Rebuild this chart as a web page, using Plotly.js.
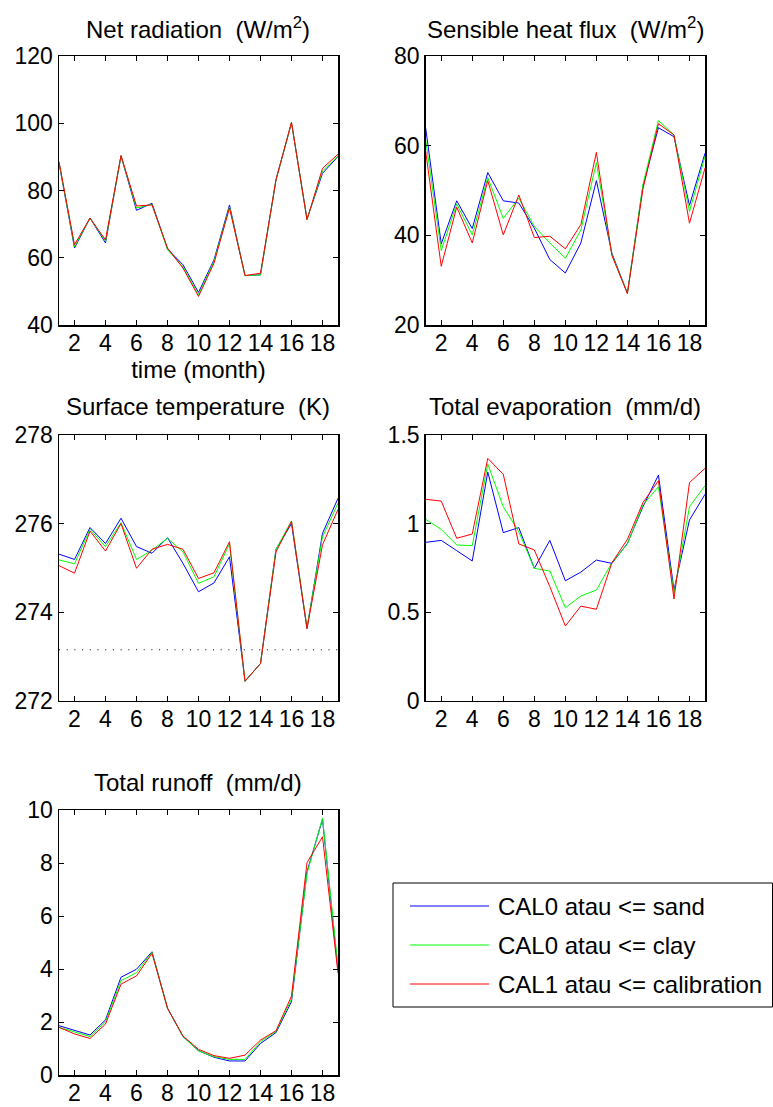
<!DOCTYPE html>
<html>
<head>
<meta charset="utf-8">
<script src="https://cdn.plot.ly/plotly-3.0.1.min.js"></script>
<style>html,body{margin:0;padding:0;background:#fff;}#chart{width:773px;height:1107px;}</style>
</head>
<body>
<div id="chart"></div>
<script>
// ---------------- data ----------------
const months = [1,2,3,4,5,6,7,8,9,10,11,12,13,14,15,16,17,18,19];
const seriesNames = ["CAL0 atau <= sand", "CAL0 atau <= clay", "CAL1 atau <= calibration"];
const seriesColors = ["#0000ff", "#00ff00", "#ff0000"];

const netRadSand  = [88.2,62.9,71.8,64.4,90.3,74.1,76.2,62.6,57.9,49.7,59.4,75.7,54.7,54.9,83.2,100.1,71.5,85.1,90.1];
const netRadClay  = [88.4,63.3,71.8,64.9,90.3,74.8,75.9,62.4,57.3,49.0,58.9,75.1,54.7,54.9,83.2,100.2,71.4,85.8,90.3];
const netRadCal   = [88.6,63.9,71.8,65.3,90.4,75.4,75.7,62.9,56.9,48.5,58.4,74.8,54.7,55.4,83.2,100.3,71.3,86.6,90.8];

const sensSand = [63.9,38.1,47.7,41.5,54.0,47.7,47.2,41.6,34.6,31.6,38.3,52.2,36.0,27.1,51.0,64.0,62.0,46.7,58.3];
const sensClay = [61.3,36.6,47.0,40.1,52.9,43.8,48.3,42.0,38.3,34.9,41.2,56.2,35.7,27.1,51.3,65.6,62.4,45.3,57.6];
const sensCal  = [58.7,33.1,46.3,38.3,52.2,40.1,49.0,39.5,39.8,37.0,42.4,58.5,35.5,27.0,50.3,64.9,62.4,42.7,55.0];

const tsurfSand = [275.31,275.19,275.91,275.55,276.12,275.48,275.33,275.68,275.10,274.46,274.66,275.25,272.44,272.84,275.42,276.00,273.63,275.78,276.57];
const tsurfClay = [275.18,275.09,275.87,275.48,276.02,275.19,275.40,275.67,275.36,274.65,274.80,275.54,272.44,272.84,275.42,276.06,273.65,275.70,276.46];
const tsurfCal  = [275.05,274.88,275.83,275.38,276.00,274.99,275.42,275.53,275.42,274.76,274.89,275.59,272.44,272.84,275.36,276.05,273.63,275.52,276.32];
const freezingPoint = 273.15;

const evapSand = [0.894,0.905,0.847,0.789,1.291,0.949,0.977,0.747,0.905,0.677,0.726,0.794,0.775,0.888,1.095,1.274,0.625,1.020,1.165];
const evapClay = [1.024,0.967,0.879,0.875,1.336,1.095,0.954,0.747,0.732,0.525,0.591,0.625,0.779,0.885,1.105,1.208,0.606,1.095,1.214];
const evapCal  = [1.137,1.127,0.917,0.941,1.368,1.278,0.885,0.851,0.644,0.422,0.534,0.516,0.779,0.911,1.118,1.242,0.574,1.231,1.312];

const runoffSand = [1.86,1.69,1.51,2.08,3.69,3.99,4.65,2.52,1.45,0.92,0.67,0.53,0.53,1.19,1.60,2.77,7.67,9.65,3.96];
const runoffClay = [1.80,1.62,1.45,2.01,3.56,3.86,4.63,2.52,1.45,0.91,0.69,0.59,0.59,1.26,1.64,2.86,7.61,9.69,4.09];
const runoffCal  = [1.80,1.55,1.38,1.92,3.43,3.74,4.59,2.52,1.47,0.97,0.73,0.63,0.75,1.32,1.67,2.98,8.01,8.99,3.84];

const panelTitles = ["Net radiation  (W/m<sup>2</sup>)", "Sensible heat flux  (W/m<sup>2</sup>)",
                     "Surface temperature  (K)", "Total evaporation  (mm/d)", "Total runoff  (mm/d)"];
const xTickVals = [2,4,6,8,10,12,14,16,18];
const yRanges = [[40,120],[20,80],[272,278],[0,1.5],[0,10]];
const yTickVals = [[40,60,80,100,120],[20,40,60,80],[272,274,276,278],[0,0.5,1,1.5],[0,2,4,6,8,10]];
const yTickText = [["40","60","80","100","120"],["20","40","60","80"],["272","274","276","278"],["0","0.5","1","1.5"],["0","2","4","6","8","10"]];
const xTitle = "time (month)";

// ---------------- layout helpers (pixel geometry) ----------------
const W = 773, H = 1107;
const px = v => v / W;
const py = v => 1 - v / H;
const cols = [[59, 338], [425.7, 705]];
const rows = [[56, 325], [435, 700.7], [810, 1075]];
const panelPos = [[0,0],[1,0],[0,1],[1,1],[0,2]];
const FONT = "Liberation Sans, Arial, Helvetica, sans-serif";
const TICK_SIZE = 23, TEXT_SIZE = 24;

const panelData = [
  [netRadSand, netRadClay, netRadCal],
  [sensSand, sensClay, sensCal],
  [tsurfSand, tsurfClay, tsurfCal],
  [evapSand, evapClay, evapCal],
  [runoffSand, runoffClay, runoffCal]
];

const traces = [];
const layout = {
  width: W, height: H,
  margin: {l:0, r:0, t:0, b:0},
  paper_bgcolor: "#fff", plot_bgcolor: "#fff",
  showlegend: false,
  font: {family: FONT, size: TICK_SIZE, color: "#000"},
  annotations: [], shapes: []
};

panelData.forEach((sets, i) => {
  const n = i + 1;
  const xa = n === 1 ? "x" : "x" + n;
  const ya = n === 1 ? "y" : "y" + n;
  sets.forEach((vals, k) => {
    traces.push({
      x: months, y: vals, xaxis: xa, yaxis: ya, type: "scatter", mode: "lines",
      name: seriesNames[k], line: {color: seriesColors[k], width: 1}, hoverinfo: "skip"
    });
  });
  const [c, r] = panelPos[i];
  const axCommon = {
    showgrid: false, zeroline: false, showline: true, linecolor: "#000", linewidth: 1.5,
    mirror: "ticks", ticks: "inside", ticklen: 5, tickwidth: 1, tickcolor: "#000",
    tickfont: {family: FONT, size: TICK_SIZE, color: "#000"}, fixedrange: true
  };
  layout["xaxis" + (n === 1 ? "" : n)] = Object.assign({}, axCommon, {
    domain: [px(cols[c][0]), px(cols[c][1])], anchor: ya, range: [1, 19],
    tickmode: "array", tickvals: xTickVals, ticktext: xTickVals.map(String),
    ticklabelstandoff: -3
  });
  layout["yaxis" + (n === 1 ? "" : n)] = Object.assign({}, axCommon, {
    domain: [py(rows[r][1]), py(rows[r][0])], anchor: xa, range: yRanges[i],
    tickmode: "array", tickvals: yTickVals[i], ticktext: yTickText[i]
  });
  layout.annotations.push({
    text: panelTitles[i], xref: "paper", yref: "paper",
    x: px((cols[c][0] + cols[c][1]) / 2), y: py(rows[r][0] - 28),
    xanchor: "center", yanchor: "middle", showarrow: false,
    font: {family: FONT, size: TEXT_SIZE, color: "#000"}
  });
});

// x-axis title on first panel
layout.xaxis.title = {text: xTitle, font: {family: FONT, size: TEXT_SIZE, color: "#000"}, standoff: 2};

// freezing point reference line on surface temperature panel
traces.push({
  x: [1, 19], y: [freezingPoint, freezingPoint], xaxis: "x3", yaxis: "y3",
  type: "scatter", mode: "lines", line: {color: "#000", width: 1, dash: "1px,6.7px"},
  hoverinfo: "skip", showlegend: false
});

// manual legend box
const legBox = {x0: 393, x1: 772.5, y0: 883, y1: 1007};
layout.shapes.push({type: "rect", xref: "paper", yref: "paper",
  x0: px(legBox.x0), x1: px(legBox.x1), y0: py(legBox.y1), y1: py(legBox.y0),
  line: {color: "#000", width: 1}, fillcolor: "rgba(0,0,0,0)"});
const legRows = [906, 945, 984];
seriesNames.forEach((nm, k) => {
  layout.shapes.push({type: "line", xref: "paper", yref: "paper",
    x0: px(410), x1: px(489), y0: py(legRows[k]), y1: py(legRows[k]),
    line: {color: seriesColors[k], width: 1}});
  layout.annotations.push({text: nm.replace(/</g, "&lt;"), xref: "paper", yref: "paper",
    x: px(496), y: py(legRows[k]), xanchor: "left", yanchor: "middle", showarrow: false,
    font: {family: FONT, size: TEXT_SIZE, color: "#000"}});
});

Plotly.newPlot("chart", traces, layout, {displayModeBar: false, staticPlot: true});
</script>
</body>
</html>
